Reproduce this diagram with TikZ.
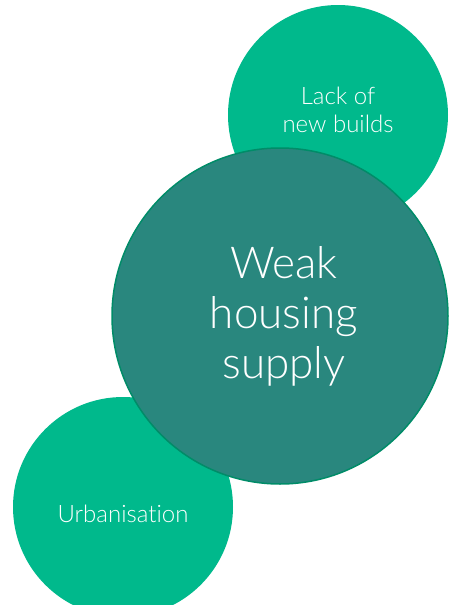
\documentclass[tikz,border=0pt]{standalone}
\usepackage{fontspec}
\setmainfont{Lato Light}[Ligatures={NoCommon,NoRare}]
\definecolor{leaf}{RGB}{0,185,140}
\definecolor{teal}{RGB}{41,135,126}
\definecolor{rim}{RGB}{0,140,104}
\tikzset{
  bubble/.style={circle, fill=leaf, inner sep=0pt, minimum size=220pt},
  core/.style={circle, fill=teal, draw=rim, line width=1.5pt, inner sep=0pt,
    minimum size=336pt},
  caption/.style={text=white, align=center, inner sep=0pt,
    font=\fontsize{24}{28}\selectfont}
}

\begin{document}
\begin{tikzpicture}[x=1pt,y=-1pt]
\useasboundingbox (0,0) rectangle (449,605);

\node [bubble] (builds) at (338,115) {};
\node [caption] at ([yshift=5pt]builds.center) {Lack of\\new builds};
\node [bubble] (urban) at (123,507) {};
\node [caption] at ([yshift=-7pt]urban.center) {Urbanisation};
\node [core] (supply) at (280,316) {};
\node [caption, font=\fontsize{44}{50}\selectfont] at ([xshift=4pt]supply.center) {Weak\\housing\\supply};

\end{tikzpicture}
\end{document}
